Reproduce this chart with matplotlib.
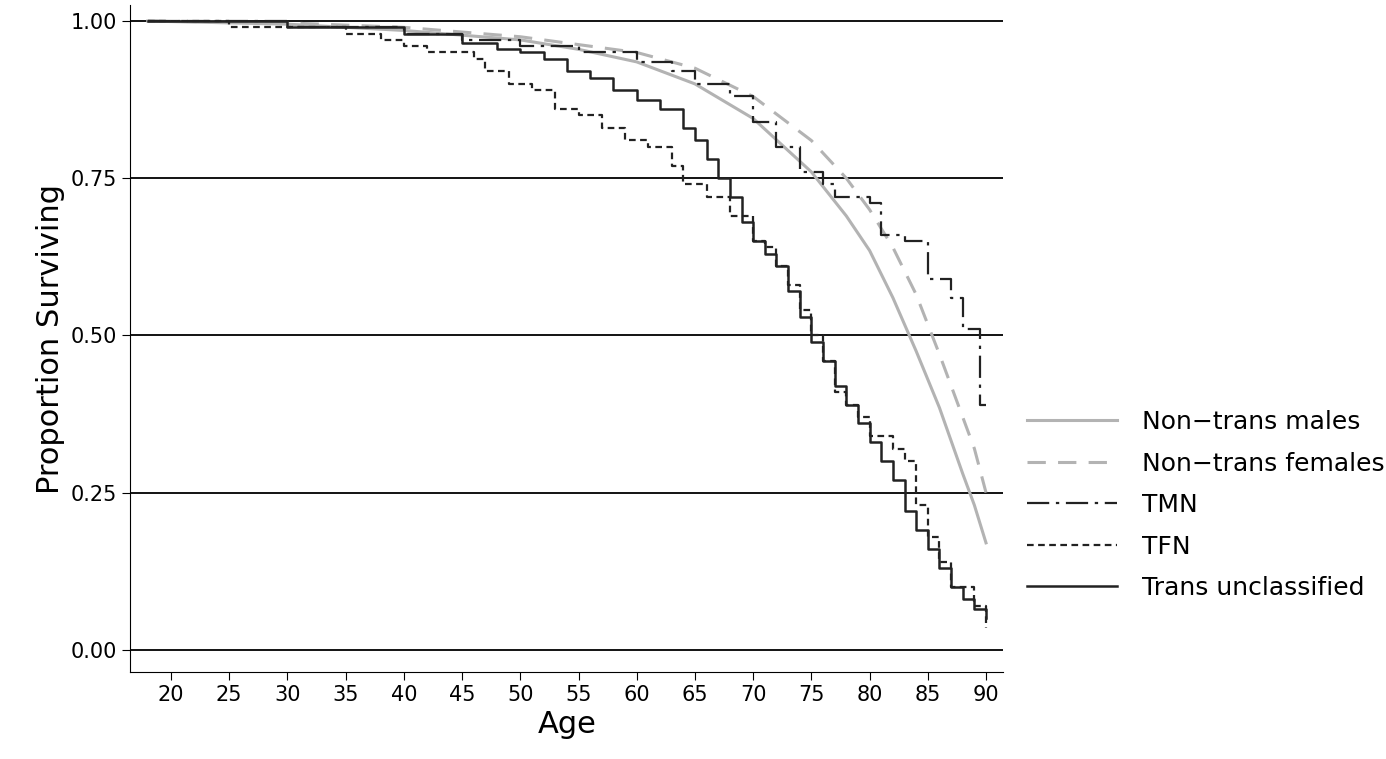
import numpy as np
import matplotlib.pyplot as plt

#-----data-----#
male_age = [18, 30, 40, 50, 55, 60, 65, 70, 75, 78, 80, 82, 84, 86, 88, 89, 90]
male_surv = [1.0, 0.995, 0.985, 0.97, 0.955, 0.935, 0.90, 0.845, 0.76, 0.69, 0.635, 0.56, 0.475, 0.385, 0.28, 0.23, 0.17]
fem_age = [18, 30, 40, 50, 60, 65, 70, 75, 78, 80, 82, 84, 86, 88, 89, 90]
fem_surv = [1.0, 0.997, 0.99, 0.975, 0.95, 0.925, 0.88, 0.81, 0.75, 0.70, 0.64, 0.565, 0.47, 0.37, 0.32, 0.25]
tmn_age = [18, 30, 40, 45, 50, 55, 60, 63, 65, 68, 70, 72, 74, 76, 77, 80, 81, 83, 85, 87, 88, 89.5, 90]
tmn_surv = [1.0, 0.99, 0.98, 0.97, 0.96, 0.95, 0.935, 0.92, 0.90, 0.88, 0.84, 0.80, 0.76, 0.74, 0.72, 0.71, 0.66, 0.65, 0.59, 0.56, 0.51, 0.39, 0.39]
tfn_age = [18, 25, 35, 38, 40, 42, 46, 47, 49, 51, 53, 55, 57, 59, 61, 63, 64, 66, 68, 70, 71, 72, 73, 74, 75, 76, 77, 78, 79, 80, 82, 83, 84, 85, 86, 87, 89, 90]
tfn_surv = [1.0, 0.99, 0.98, 0.97, 0.96, 0.95, 0.94, 0.92, 0.90, 0.89, 0.86, 0.85, 0.83, 0.81, 0.80, 0.77, 0.74, 0.72, 0.69, 0.65, 0.64, 0.61, 0.58, 0.54, 0.50, 0.46, 0.41, 0.39, 0.37, 0.34, 0.32, 0.30, 0.23, 0.18, 0.14, 0.10, 0.07, 0.035]
unc_age = [18, 30, 40, 45, 48, 50, 52, 54, 56, 58, 60, 62, 64, 65, 66, 67, 68, 69, 70, 71, 72, 73, 74, 75, 76, 77, 78, 79, 80, 81, 82, 83, 84, 85, 86, 87, 88, 89, 90]
unc_surv = [1.0, 0.99, 0.98, 0.965, 0.955, 0.95, 0.94, 0.92, 0.91, 0.89, 0.875, 0.86, 0.83, 0.81, 0.78, 0.75, 0.72, 0.68, 0.65, 0.63, 0.61, 0.57, 0.53, 0.49, 0.46, 0.42, 0.39, 0.36, 0.33, 0.30, 0.27, 0.22, 0.19, 0.16, 0.13, 0.10, 0.08, 0.065, 0.05]
xticks = list(range(20, 91, 5))
yticks = [0.0, 0.25, 0.5, 0.75, 1.0]

fig = plt.figure(figsize=(13.86, 7.59), dpi=100)
ax = fig.add_axes([0.094, 0.115, 0.63, 0.878])

for y in yticks:
    ax.axhline(y, color="black", lw=1.3, zorder=0)

gray = "#b3b3b3"
ax.plot(male_age, male_surv, color=gray, lw=2.2, label="Non\u2212trans males")
ax.plot(fem_age, fem_surv, color=gray, lw=2.2, ls=(0, (6, 4)), label="Non\u2212trans females")
ax.step(tmn_age, tmn_surv, where="post", color="#222222", lw=1.6, ls=(0, (10, 3, 1.5, 3)), label="TMN")
ax.step(tfn_age, tfn_surv, where="post", color="#222222", lw=1.6, ls=(0, (3, 2)), label="TFN")
ax.step(unc_age, unc_surv, where="post", color="#222222", lw=1.8, label="Trans unclassified")

ax.set_xlim(16.5, 91.5)
ax.set_ylim(-0.035, 1.025)
ax.set_xticks(xticks)
ax.set_yticks(yticks)
ax.set_yticklabels(["0.00", "0.25", "0.50", "0.75", "1.00"])
ax.tick_params(labelsize=15, length=6, direction="out")
ax.spines["top"].set_visible(False)
ax.spines["right"].set_visible(False)
ax.set_xlabel("Age", fontsize=22)
ax.set_ylabel("Proportion Surviving", fontsize=22)

ax.legend(loc="center left", bbox_to_anchor=(1.015, 0.25), frameon=False, fontsize=18,
          handlelength=3.6, handletextpad=1.0, labelspacing=0.7, borderaxespad=0)

fig.savefig("out.png", dpi=100)
